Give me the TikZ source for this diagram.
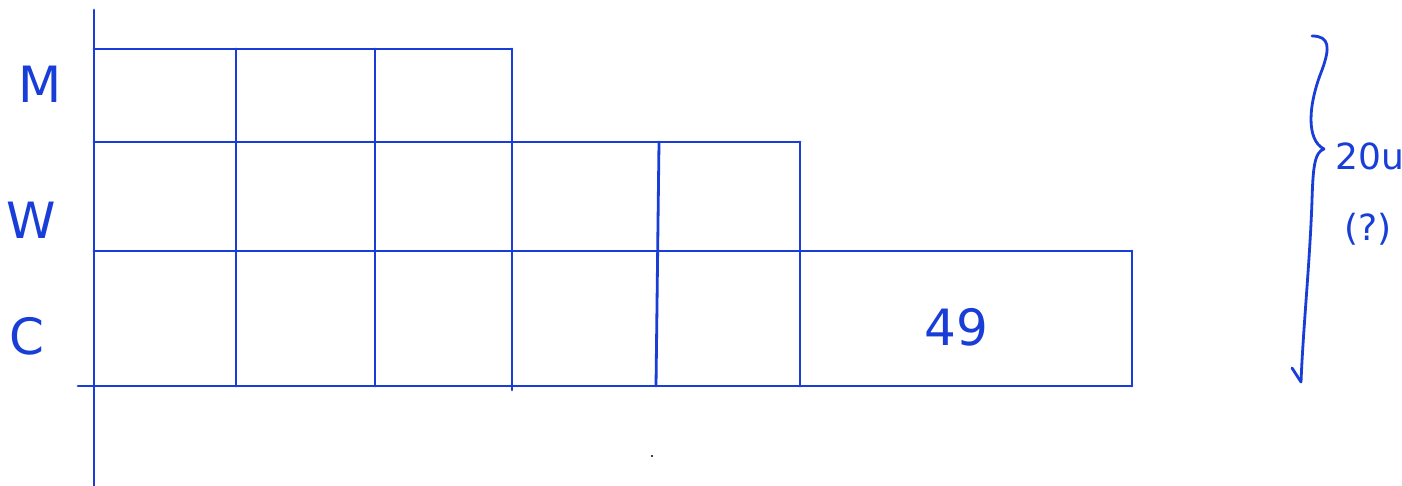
\documentclass[tikz,border=0pt]{standalone}
\usepackage{fontspec}
\setmainfont{DejaVu Sans}
\begin{document}
\begin{tikzpicture}[x=1pt,y=-1pt,
  ink/.style={draw=inkblue,line width=2.8pt,line cap=round,line join=round},
  lbl/.style={text=inkblue,font=\fontsize{50}{50}\selectfont,inner sep=0pt},
  small/.style={text=inkblue,font=\fontsize{36}{36}\selectfont,inner sep=0pt}]
\definecolor{inkblue}{RGB}{25,62,215}
\useasboundingbox[fill=white] (0,0) rectangle (1402,486);
% axes
\coordinate (ytop) at (94,10);
\coordinate (ybot) at (94,486);
\coordinate (xl) at (78,386);
\coordinate (xr) at (1132,386);
\draw[ink] (ytop) -- (ybot);
\draw[ink] (xl) -- (xr);
% horizontals
\draw[ink] (94,49) -- (512,49);
\draw[ink] (94,142) -- (800,142);
\draw[ink] (94,251) -- (1132,251);
% verticals
\draw[ink] (236,49) -- (236,386);
\draw[ink] (375,49) -- (375,386);
\draw[ink] (512,49) -- (512,390);
\draw[ink] (659,142) -- (656,386);
\draw[ink] (800,142) -- (800,386);
\draw[ink] (1132,251) -- (1132,386);
% labels
\node[lbl] (m) at (40,84) {M};
\node[lbl] (w) at (31,220) {W};
\node[lbl] (c) at (27,336) {C};
\node[lbl] (n49) at (956,327) {49};
% brace
\draw[ink] (1312,36) .. controls (1330,36) and (1330,48) .. (1322,70)
  .. controls (1308,105) and (1306,140) .. (1324,149);
\draw[ink] (1324,149) .. controls (1314,152) and (1313,170) .. (1312,200)
  .. controls (1310,260) and (1303,330) .. (1301,382);
\draw[ink] (1301,382) -- (1292,368);
\node[small] (t20) at (1370,156) {20u};
\node[small] (tq) at (1368,229) {(?)};
\fill[black] (652,456) circle (1.2pt);
\end{tikzpicture}
\end{document}
